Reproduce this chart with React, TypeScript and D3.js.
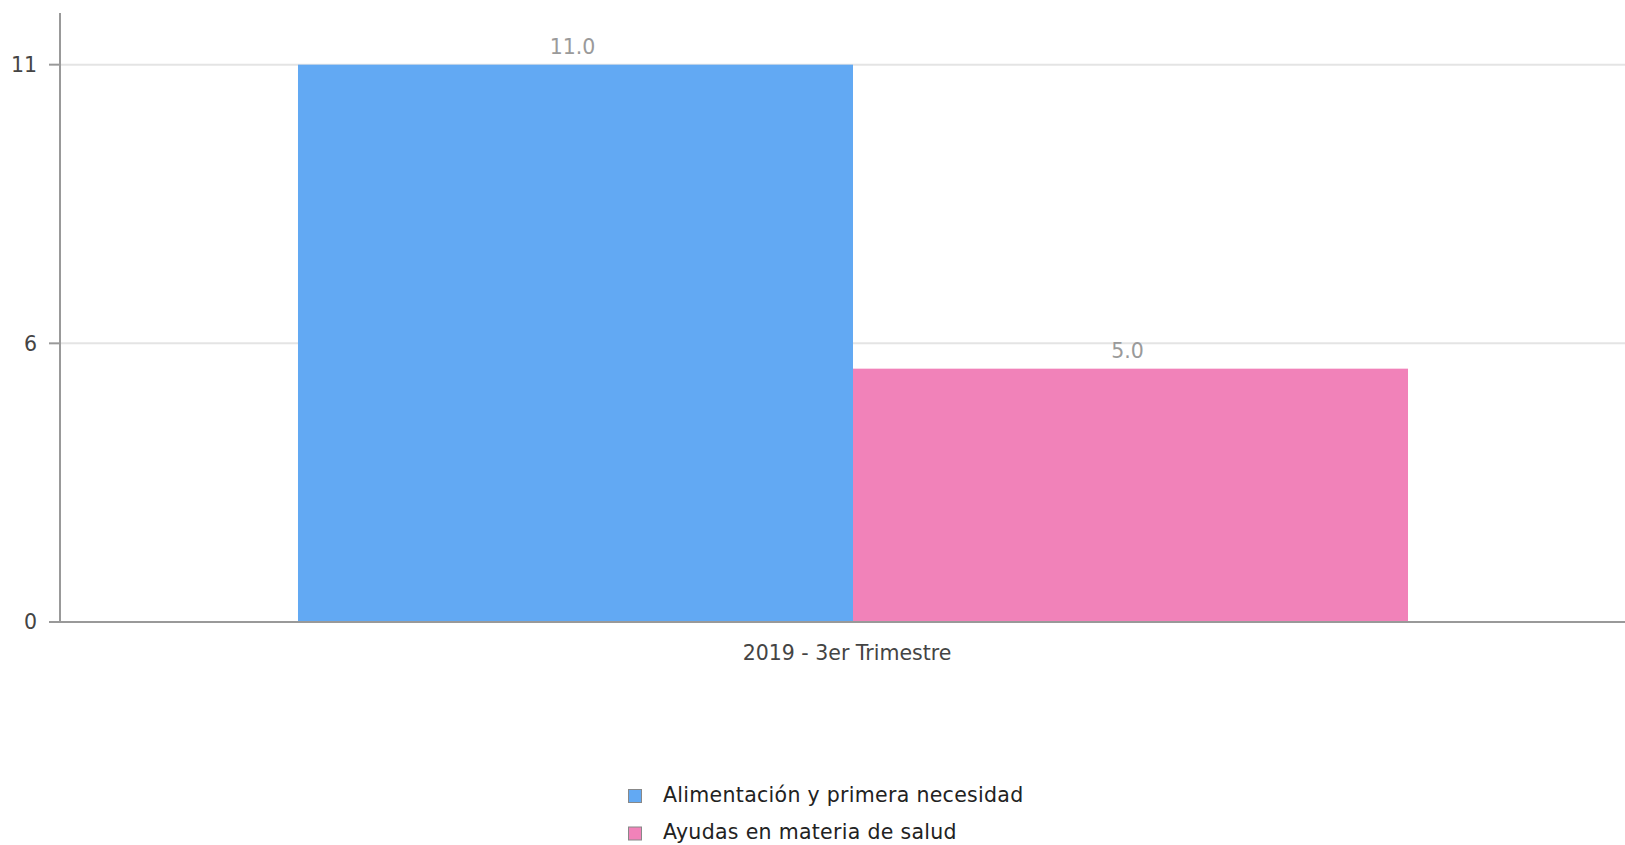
import React from "react";
import * as d3 from "d3";

const categories = ["2019 - 3er Trimestre"];
const seriesNames = ["Alimentación y primera necesidad", "Ayudas en materia de salud"];
const seriesValues = [[11.0], [5.0]];
const seriesColors = ["#62a9f3", "#f182b9"];
const yTickValues = [0, 5.5, 11];
const yTickLabels = ["0", "6", "11"];
const yMax = 12;

const W = 1625;
const H = 845;
const FONT = "'DejaVu Sans', sans-serif";
const FS = 20.5;

export default function App() {
  const left = 60;
  const bottom = 622;
  const top = 14;
  const y = d3.scaleLinear().domain([0, yMax]).range([bottom, top]);
  const x0 = d3.scaleBand<string>().domain(categories).range([left, 1646]).paddingOuter(0.2144).paddingInner(0);
  const x1 = d3.scaleBand<string>().domain(seriesNames).range([0, x0.bandwidth()]).padding(0);

  return (
    <svg width={W} height={H} style={{ position: "absolute", left: 0, top: 0, background: "#fff" }} fontFamily={FONT}>
      {yTickValues.map((t, i) => (
        <g key={"g" + i}>
          {t !== 0 && <line x1={left} x2={W} y1={y(t)} y2={y(t)} stroke="#e4e4e4" strokeWidth={2} />}
          <line x1={49} x2={left} y1={y(t)} y2={y(t)} stroke="#999" strokeWidth={2} />
          <text x={37} y={y(t)} dy="0.36em" textAnchor="end" fontSize={FS} fill="#444">{yTickLabels[i]}</text>
        </g>
      ))}
      {categories.map((c, ci) => (
        <g key={c} transform={`translate(${x0(c)},0)`}>
          {seriesNames.map((s, si) => {
            const v = seriesValues[si][ci];
            const bx = x1(s)!;
            return (
              <g key={s}>
                <rect x={bx} y={y(v)} width={x1.bandwidth()} height={bottom - y(v)} fill={seriesColors[si]} />
                <text x={bx + x1.bandwidth() / 2 - 3} y={y(v) - 11} textAnchor="middle" fontSize={FS} fill="#9a9a9a">{v.toFixed(1)}</text>
              </g>
            );
          })}
          <text x={x0.bandwidth() / 2 - 6} y={660} textAnchor="middle" fontSize={FS} fill="#444">{c}</text>
        </g>
      ))}
      <line x1={left} x2={left} y1={13} y2={bottom + 1} stroke="#999" strokeWidth={2} />
      <line x1={49} x2={W} y1={bottom} y2={bottom} stroke="#999" strokeWidth={2} />
      {seriesNames.map((s, i) => (
        <g key={"l" + i} transform={`translate(628,${789 + i * 37.5})`}>
          <rect x={0.5} y={0.5} width={13} height={13} fill={seriesColors[i]} stroke="#888" strokeWidth={1} />
          <text x={35} y={12.5} fontSize={FS} letterSpacing={0.3} fill="#222">{s}</text>
        </g>
      ))}
    </svg>
  );
}
